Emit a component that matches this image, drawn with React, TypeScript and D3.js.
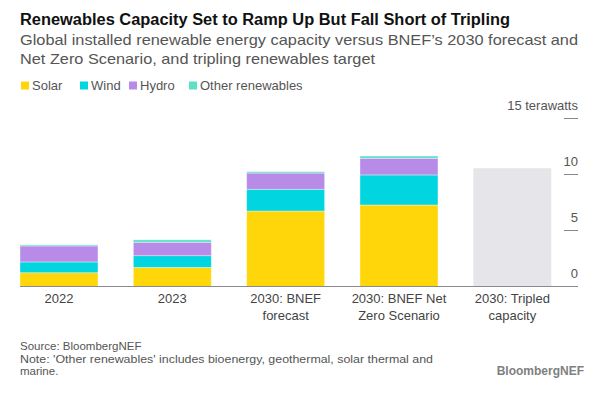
import React from "react";
import { scaleBand, scaleLinear, stack } from "d3";

// Chart data
const categories = ["2022", "2023", "bnef", "nz", "tripled"];
const categoryLabels = [
  ["2022"],
  ["2023"],
  ["2030: BNEF", "forecast"],
  ["2030: BNEF Net", "Zero Scenario"],
  ["2030: Tripled", "capacity"],
];
const solar = [1.23, 1.7, 6.74, 7.28, 0];
const wind = [0.96, 1.05, 1.94, 2.68, 0];
const hydro = [1.43, 1.2, 1.45, 1.49, 0];
const other = [0.1, 0.22, 0.12, 0.2, 0];
const tripled = [0, 0, 0, 0, 10.56];
const yTicks = [0, 5, 10, 15];

const seriesKeys = ["solar", "wind", "hydro", "other"];
const seriesNames = ["Solar", "Wind", "Hydro", "Other renewables"];
const seriesColors = ["#FFD60A", "#00D5E0", "#B98BE8", "#5EE0C6"];
const tripledColor = "#E6E6EA";

const FONT = "'Liberation Sans', Arial, sans-serif";

export default function App() {
  const rows = categories.map((c, i) => ({
    key: c,
    solar: solar[i],
    wind: wind[i],
    hydro: hydro[i],
    other: other[i],
    tripled: tripled[i],
  }));

  const x = scaleBand<string>()
    .domain(categories)
    .range([20, 551.3])
    .paddingInner(0.312)
    .paddingOuter(0);

  const y = scaleLinear().domain([0, 15]).range([286.5, 118.5]);

  const stacked = stack<any>().keys(seriesKeys)(rows);

  const legendX = [21, 80, 129, 189];

  return (
    <svg
      width={600}
      height={400}
      style={{ position: "absolute", left: 0, top: 0, background: "#fff" }}
      fontFamily={FONT}
    >
      {/* Title */}
      <text x={20} y={25} fontSize={16} fontWeight="bold" fill="#111" textLength={490} lengthAdjust="spacingAndGlyphs">
        Renewables Capacity Set to Ramp Up But Fall Short of Tripling
      </text>
      <text x={20} y={45} fontSize={15} fill="#555" textLength={558} lengthAdjust="spacingAndGlyphs">
        Global installed renewable energy capacity versus BNEF’s 2030 forecast and
      </text>
      <text x={20} y={64} fontSize={15} fill="#555" textLength={355} lengthAdjust="spacingAndGlyphs">
        Net Zero Scenario, and tripling renewables target
      </text>

      {/* Legend */}
      {seriesNames.map((name, i) => (
        <g key={name}>
          <rect x={legendX[i]} y={81.5} width={8} height={8} fill={seriesColors[i]} />
          <text x={legendX[i] + 11} y={89.5} fontSize={13} fill="#555">
            {name}
          </text>
        </g>
      ))}

      {/* Y ticks */}
      {yTicks.map((t) => (
        <g key={t}>
          <line x1={564} x2={578} y1={y(t)} y2={y(t)} stroke="#888" strokeWidth={1} />
          <text x={578} y={y(t) - 9} fontSize={13} fill="#555" textAnchor="end">
            {t === 15 ? "15 terawatts" : t}
          </text>
        </g>
      ))}

      {/* Tripled target bar */}
      {rows.map((d) =>
        d.tripled > 0 ? (
          <rect
            key={"t" + d.key}
            x={x(d.key)}
            width={x.bandwidth()}
            y={y(d.tripled)}
            height={y(0) - y(d.tripled)}
            fill={tripledColor}
          />
        ) : null
      )}

      {/* Stacked bars */}
      {stacked.map((layer, li) => (
        <g key={layer.key} fill={seriesColors[li]}>
          {layer.map((seg, i) =>
            seg[1] - seg[0] > 0 ? (
              <rect
                key={i}
                x={x(categories[i])}
                width={x.bandwidth()}
                y={y(seg[1])}
                height={y(seg[0]) - y(seg[1])}
                stroke="#fff"
                strokeOpacity={0.45}
                strokeWidth={0.8}
              />
            ) : null
          )}
        </g>
      ))}

      {/* Baseline */}
      <line x1={20} x2={578} y1={y(0)} y2={y(0)} stroke="#8a8a94" strokeWidth={1.2} />

      {/* Category labels */}
      {categoryLabels.map((lines, i) => (
        <text
          key={i}
          x={(x(categories[i]) ?? 0) + x.bandwidth() / 2}
          y={303}
          fontSize={13}
          fill="#444"
          textAnchor="middle"
        >
          {lines.map((l, j) => (
            <tspan key={j} x={(x(categories[i]) ?? 0) + x.bandwidth() / 2} dy={j === 0 ? 0 : 16.5}>
              {l}
            </tspan>
          ))}
        </text>
      ))}

      {/* Footer */}
      <text x={20} y={350} fontSize={11.5} fill="#555">
        Source: BloombergNEF
      </text>
      <text x={20} y={362.5} fontSize={11.5} fill="#555" textLength={413} lengthAdjust="spacingAndGlyphs">
        Note: 'Other renewables' includes bioenergy, geothermal, solar thermal and
      </text>
      <text x={20} y={375} fontSize={11.5} fill="#555">
        marine.
      </text>
      <text x={584} y={375} fontSize={12} fontWeight="bold" fill="#808080" textAnchor="end">
        BloombergNEF
      </text>
    </svg>
  );
}
